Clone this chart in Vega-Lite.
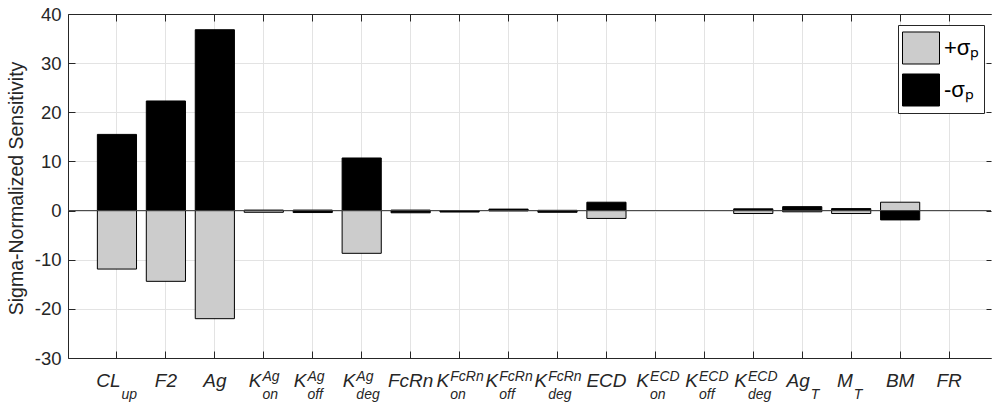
{
  "$schema": "https://vega.github.io/schema/vega-lite/v6.json",
  "width": 923,
  "height": 344,
  "autosize": {"type": "none"},
  "padding": {"left": 68, "top": 14, "right": 1, "bottom": 44},
  "background": "white",
  "config": {
    "view": {"stroke": null},
    "font": "Liberation Sans",
    "axis": {
      "domainColor": "#262626",
      "tickColor": "#262626",
      "labelColor": "#262626",
      "titleColor": "#262626",
      "gridColor": "#e3e3e3",
      "gridOpacity": 1,
      "domainWidth": 1,
      "tickWidth": 1,
      "labelFont": "Liberation Sans",
      "titleFont": "Liberation Sans"
    }
  },
  "datasets": {
    "params": [
      {"param": "CL_up", "base": "CL", "sup": "", "sub": "up"},
      {"param": "F2", "base": "F2", "sup": "", "sub": ""},
      {"param": "Ag", "base": "Ag", "sup": "", "sub": ""},
      {"param": "K_on^Ag", "base": "K", "sup": "Ag", "sub": "on"},
      {"param": "K_off^Ag", "base": "K", "sup": "Ag", "sub": "off"},
      {"param": "K_deg^Ag", "base": "K", "sup": "Ag", "sub": "deg"},
      {"param": "FcRn", "base": "FcRn", "sup": "", "sub": ""},
      {"param": "K_on^FcRn", "base": "K", "sup": "FcRn", "sub": "on"},
      {"param": "K_off^FcRn", "base": "K", "sup": "FcRn", "sub": "off"},
      {"param": "K_deg^FcRn", "base": "K", "sup": "FcRn", "sub": "deg"},
      {"param": "ECD", "base": "ECD", "sup": "", "sub": ""},
      {"param": "K_on^ECD", "base": "K", "sup": "ECD", "sub": "on"},
      {"param": "K_off^ECD", "base": "K", "sup": "ECD", "sub": "off"},
      {"param": "K_deg^ECD", "base": "K", "sup": "ECD", "sub": "deg"},
      {"param": "Ag_T", "base": "Ag", "sup": "", "sub": "T"},
      {"param": "M_T", "base": "M", "sup": "", "sub": "T"},
      {"param": "BM", "base": "BM", "sup": "", "sub": ""},
      {"param": "FR", "base": "FR", "sup": "", "sub": ""}
    ],
    "bars": [
      {"param": "CL_up", "sigma": "+σₚ", "value": -11.9},
      {"param": "CL_up", "sigma": "-σₚ", "value": 15.5},
      {"param": "F2", "sigma": "+σₚ", "value": -14.4},
      {"param": "F2", "sigma": "-σₚ", "value": 22.3},
      {"param": "Ag", "sigma": "+σₚ", "value": -22.0},
      {"param": "Ag", "sigma": "-σₚ", "value": 36.8},
      {"param": "K_on^Ag", "sigma": "+σₚ", "value": -0.35},
      {"param": "K_on^Ag", "sigma": "-σₚ", "value": 0.1},
      {"param": "K_off^Ag", "sigma": "+σₚ", "value": 0.1},
      {"param": "K_off^Ag", "sigma": "-σₚ", "value": -0.4},
      {"param": "K_deg^Ag", "sigma": "+σₚ", "value": -8.7},
      {"param": "K_deg^Ag", "sigma": "-σₚ", "value": 10.7},
      {"param": "FcRn", "sigma": "+σₚ", "value": 0.1},
      {"param": "FcRn", "sigma": "-σₚ", "value": -0.45},
      {"param": "K_on^FcRn", "sigma": "-σₚ", "value": -0.3},
      {"param": "K_off^FcRn", "sigma": "+σₚ", "value": -0.05},
      {"param": "K_off^FcRn", "sigma": "-σₚ", "value": 0.3},
      {"param": "K_deg^FcRn", "sigma": "+σₚ", "value": 0.05},
      {"param": "K_deg^FcRn", "sigma": "-σₚ", "value": -0.35},
      {"param": "ECD", "sigma": "+σₚ", "value": -1.6},
      {"param": "ECD", "sigma": "-σₚ", "value": 1.7},
      {"param": "K_deg^ECD", "sigma": "+σₚ", "value": -0.6},
      {"param": "K_deg^ECD", "sigma": "-σₚ", "value": 0.35},
      {"param": "Ag_T", "sigma": "+σₚ", "value": -0.25},
      {"param": "Ag_T", "sigma": "-σₚ", "value": 0.8},
      {"param": "M_T", "sigma": "+σₚ", "value": -0.6},
      {"param": "M_T", "sigma": "-σₚ", "value": 0.4},
      {"param": "BM", "sigma": "+σₚ", "value": 1.7},
      {"param": "BM", "sigma": "-σₚ", "value": -1.9}
    ]
  },
  "layer": [
    {
      "data": {"name": "bars"},
      "mark": {"type": "bar", "stroke": "#000000", "strokeWidth": 1},
      "encoding": {
        "x": {
          "field": "param",
          "type": "nominal",
          "scale": {
            "type": "band",
            "domain": ["CL_up", "F2", "Ag", "K_on^Ag", "K_off^Ag", "K_deg^Ag", "FcRn", "K_on^FcRn", "K_off^FcRn", "K_deg^FcRn", "ECD", "K_on^ECD", "K_off^ECD", "K_deg^ECD", "Ag_T", "M_T", "BM", "FR"],
            "paddingInner": 0.2,
            "paddingOuter": 0.528,
            "align": 0.568
          },
          "axis": {"orient": "bottom", "labels": false, "title": null, "grid": true, "bandPosition": 0.5, "tickSize": -7, "domain": true}
        },
        "y": {
          "field": "value",
          "type": "quantitative",
          "scale": {"domain": [-30, 40], "nice": false},
          "axis": {
            "orient": "left",
            "values": [-30, -20, -10, 0, 10, 20, 30, 40],
            "labelExpr": "datum.value < 0 ? '-' + abs(datum.value) : '' + datum.value",
            "grid": true,
            "tickSize": -7,
            "labelPadding": 14,
            "labelFontSize": 18.5,
            "title": "Sigma-Normalized Sensitivity",
            "titleFontSize": 19.5,
            "titleFontWeight": "normal",
            "titleX": -42,
            "titleY": 174
          }
        },
        "color": {
          "field": "sigma",
          "type": "nominal",
          "scale": {"domain": ["+σₚ", "-σₚ"], "range": ["#cccccc", "#000000"]},
          "legend": {
            "title": null,
            "orient": "none",
            "legendX": 830,
            "legendY": 11,
            "symbolType": "M-1,-0.865H1V0.865H-1Z",
            "symbolSize": 1369,
            "symbolStrokeColor": "#000000",
            "symbolStrokeWidth": 1,
            "symbolOpacity": 1,
            "labelFontSize": 22,
            "labelFont": "Liberation Sans",
            "labelColor": "#000000",
            "labelOffset": 4,
            "padding": 4,
            "rowPadding": 4,
            "strokeColor": "#262626",
            "fillColor": "#ffffff"
          }
        }
      }
    },
    {
      "data": {"values": [{}]},
      "mark": {"type": "rule", "color": "#404040", "strokeWidth": 1},
      "encoding": {"y": {"datum": 0, "type": "quantitative", "axis": null}}
    },
    {
      "data": {"name": "params"},
      "mark": {
        "type": "text",
        "fontSize": 19,
        "fontStyle": "italic",
        "color": "#262626",
        "baseline": "alphabetic",
        "dy": 29,
        "align": {"expr": "(datum.sup == '' && datum.sub == '') ? 'center' : 'right'"},
        "dx": {"expr": "(datum.sup == '' && datum.sub == '') ? 0 : (12 * length(datum.base) - 7.9 * max(length(datum.sup), length(datum.sub)) - 1) / 2"}
      },
      "encoding": {
        "x": {
          "field": "param",
          "type": "nominal",
          "scale": {"type": "band"},
          "axis": {"orient": "top", "labels": false, "title": null, "grid": false, "bandPosition": 0.5, "tickSize": -7, "domain": true}
        },
        "y": {
          "datum": -30,
          "type": "quantitative",
          "axis": {"orient": "right", "labels": false, "title": null, "grid": false, "values": [-30, -20, -10, 0, 10, 20, 30, 40], "tickSize": -5, "domain": false}
        },
        "text": {"field": "base"}
      }
    },
    {
      "data": {"name": "params"},
      "mark": {
        "type": "text",
        "fontSize": 14,
        "fontStyle": "italic",
        "color": "#262626",
        "baseline": "alphabetic",
        "align": "left",
        "dy": 23,
        "dx": {"expr": "(12 * length(datum.base) - 7.9 * max(length(datum.sup), length(datum.sub)) - 1) / 2 + 1"}
      },
      "encoding": {
        "x": {"field": "param", "type": "nominal", "scale": {"type": "band"}, "axis": null},
        "y": {"datum": -30, "type": "quantitative", "axis": null},
        "text": {"field": "sup"}
      }
    },
    {
      "data": {"name": "params"},
      "mark": {
        "type": "text",
        "fontSize": 14,
        "fontStyle": "italic",
        "color": "#262626",
        "baseline": "alphabetic",
        "align": "left",
        "dy": 41,
        "dx": {"expr": "(12 * length(datum.base) - 7.9 * max(length(datum.sup), length(datum.sub)) - 1) / 2 + 1"}
      },
      "encoding": {
        "x": {"field": "param", "type": "nominal", "scale": {"type": "band"}, "axis": null},
        "y": {"datum": -30, "type": "quantitative", "axis": null},
        "text": {"field": "sub"}
      }
    }
  ]
}
